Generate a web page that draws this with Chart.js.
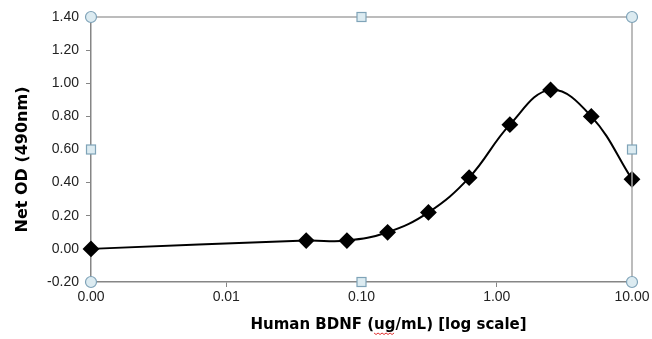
<!DOCTYPE html>
<html lang="en">
<head>
    <meta charset="UTF-8">
    <title>Human BDNF standard curve</title>
    <script src="https://cdn.jsdelivr.net/npm/chart.js"></script>
    <style>
        body {
            margin: 0;
            background-color: white;
        }
        .chart-container {
            position: relative;
            width: 652px;
            height: 339px;
        }
    </style>
</head>
<body>
    <div class="chart-container">
        <canvas id="bdnfChart"></canvas>
    </div>

    <script>
        // Data
        const concentrations = [0.001, 0.039, 0.078, 0.156, 0.3125, 0.625, 1.25, 2.5, 5, 10];
        const netOD = [0.00, 0.05, 0.05, 0.10, 0.22, 0.43, 0.75, 0.96, 0.80, 0.42];
        const xTickValues = [0.001, 0.01, 0.1, 1, 10];

        const axisColor = '#868686';
        const tickFont = '"Liberation Sans", Arial, sans-serif';
        const titleFont = '"DejaVu Sans", Verdana, sans-serif';
        const xTitle = 'Human BDNF (ug/mL) [log scale]';
        const yTitle = 'Net OD (490nm)';

        const fmt = value => {
            const v = Math.round(Number(value) * 100) / 100;
            return (v === 0 ? 0 : v).toFixed(2);
        };

        // Excel places the axis titles a little off the plot centre,
        // so they are drawn here instead of by the scale title option
        const axisTitles = {
            id: 'axisTitles',
            afterDraw(chart) {
                const { ctx, chartArea } = chart;
                const midX = (chartArea.left + chartArea.right) / 2;
                const midY = (chartArea.top + chartArea.bottom) / 2;
                ctx.save();
                ctx.fillStyle = '#000';
                ctx.textAlign = 'center';
                ctx.textBaseline = 'middle';

                ctx.font = 'bold 15px ' + titleFont;
                const tx = midX + 27;
                const ty = chart.scales.x.bottom - 14;
                ctx.fillText(xTitle, tx, ty);

                // red spell-check squiggle under "ug"
                const full = ctx.measureText(xTitle).width;
                const pre = ctx.measureText('Human BDNF (').width;
                const word = ctx.measureText('ug').width;
                const sx = tx - full / 2 + pre;
                const sy = ty + 8;
                ctx.strokeStyle = '#e03030';
                ctx.lineWidth = 1;
                ctx.beginPath();
                for (let x = 0; x <= word; x += 2) {
                    const y = sy + ((x / 2) % 2 === 0 ? 0 : 1.5);
                    if (x === 0) ctx.moveTo(sx + x, y); else ctx.lineTo(sx + x, y);
                }
                ctx.stroke();

                ctx.font = 'bold 16px ' + titleFont;
                ctx.translate(23, midY + 10);
                ctx.rotate(-Math.PI / 2);
                ctx.fillText(yTitle, 0, 0);
                ctx.restore();
            }
        };

        // Excel style selection frame and handles round the plot area
        const selectionHandles = {
            id: 'selectionHandles',
            afterDraw(chart) {
                const { ctx, chartArea } = chart;
                const { left, right, top, bottom } = chartArea;
                const midX = (left + right) / 2;
                const midY = (top + bottom) / 2;
                ctx.save();
                ctx.strokeStyle = '#a6a6a6';
                ctx.lineWidth = 1.5;
                ctx.beginPath();
                ctx.moveTo(left, top);
                ctx.lineTo(right, top);
                ctx.lineTo(right, bottom);
                ctx.stroke();

                ctx.fillStyle = '#dcebf1';
                ctx.strokeStyle = '#7fa3b8';
                ctx.lineWidth = 1.2;
                [[left, top], [right, top], [left, bottom], [right, bottom]].forEach(([x, y]) => {
                    ctx.beginPath();
                    ctx.arc(x, y, 5.5, 0, Math.PI * 2);
                    ctx.fill();
                    ctx.stroke();
                });
                [[midX, top], [midX, bottom], [left, midY], [right, midY]].forEach(([x, y]) => {
                    ctx.fillRect(x - 4.5, y - 4.5, 9, 9);
                    ctx.strokeRect(x - 4.5, y - 4.5, 9, 9);
                });
                ctx.restore();
            }
        };

        const ctx = document.getElementById('bdnfChart').getContext('2d');
        const chart = new Chart(ctx, {
            type: 'line',
            data: {
                datasets: [{
                    data: concentrations.map((c, i) => ({ x: c, y: netOD[i] })),
                    borderColor: '#000000',
                    backgroundColor: '#000000',
                    borderWidth: 2,
                    tension: 0.4,
                    pointStyle: 'rectRot',
                    pointRadius: 7,
                    pointHoverRadius: 7,
                    clip: false
                }]
            },
            options: {
                responsive: true,
                maintainAspectRatio: false,
                animation: false,
                layout: {
                    padding: { left: 0, right: 20, top: 17, bottom: 0 }
                },
                plugins: {
                    legend: { display: false },
                    tooltip: { enabled: false }
                },
                scales: {
                    x: {
                        type: 'logarithmic',
                        min: 0.001,
                        max: 10,
                        afterBuildTicks: scale => {
                            scale.ticks = xTickValues.map(v => ({ value: v }));
                        },
                        afterFit: scale => { scale.height = 57; },
                        ticks: {
                            autoSkip: false,
                            maxRotation: 0,
                            padding: 2,
                            color: '#222',
                            font: { family: tickFont, size: 14 },
                            callback: fmt
                        },
                        grid: {
                            drawOnChartArea: false,
                            tickLength: 5,
                            color: axisColor
                        },
                        border: { color: axisColor, width: 1.5 },
                        title: { display: false }
                    },
                    y: {
                        min: -0.2,
                        max: 1.4,
                        afterFit: scale => { scale.width = 91; },
                        ticks: {
                            stepSize: 0.2,
                            padding: 7,
                            color: '#222',
                            font: { family: tickFont, size: 14 },
                            callback: fmt
                        },
                        grid: {
                            drawOnChartArea: false,
                            tickLength: 5,
                            color: axisColor
                        },
                        border: { color: axisColor, width: 1.5 },
                        title: { display: false }
                    }
                }
            },
            plugins: [axisTitles, selectionHandles]
        });
    </script>
</body>
</html>
